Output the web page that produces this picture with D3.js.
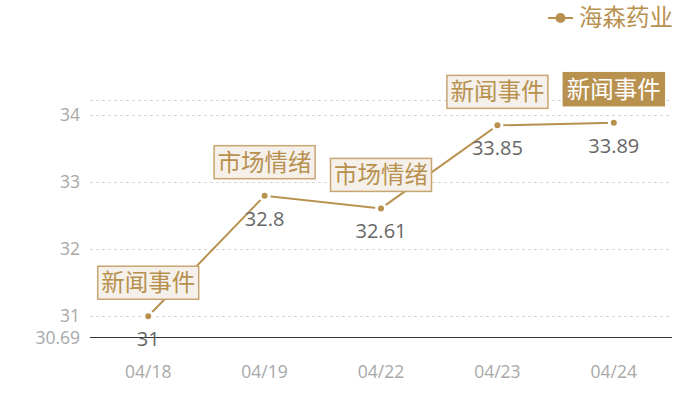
<!DOCTYPE html>
<html>
<head>
<meta charset="utf-8">
<script src="https://cdn.jsdelivr.net/npm/d3@7"></script>
<style>
  body { margin: 0; background: #fff; }
  svg { font-family: "Noto Sans CJK SC", "Noto Sans", sans-serif; }
  .num { font-family: "Open Sans", "Noto Sans", sans-serif; }
</style>
</head>
<body>
<svg></svg>
<script>
var dates = ['04/18', '04/19', '04/22', '04/23', '04/24'];
var prices = [31, 32.8, 32.61, 33.85, 33.89];
var events = ['新闻事件', '市场情绪', '市场情绪', '新闻事件', '新闻事件'];
var highlight = [false, false, false, false, true];
var yTicks = [31, 32, 33, 34];
var seriesName = '海森药业';

var gold = '#b8914f';

document.addEventListener('DOMContentLoaded', function () {
    drawChart();
});

function drawChart() {
    var svgWidth = 700, svgHeight = 400;
    var margin = { top: 100, right: 28, bottom: 63, left: 90 };
    var width = svgWidth - margin.left - margin.right;
    var height = svgHeight - margin.top - margin.bottom;

    var svg = d3.select('svg')
        .attr('width', svgWidth)
        .attr('height', svgHeight);

    var g = svg.append('g')
        .attr('transform', 'translate(' + margin.left + ',' + margin.top + ')');

    var yMin = +(d3.min(prices) * 0.99).toFixed(2);
    var yMax = d3.max(prices) * 1.01;

    var x = d3.scalePoint()
        .domain(dates)
        .range([0, width])
        .padding(0.5);

    var y = d3.scaleLinear()
        .domain([yMin, yMax])
        .range([height, 0]);

    // grid lines (incl. top edge)
    g.selectAll('.grid')
        .data(yTicks.concat([yMax]))
        .enter().append('line')
        .attr('x1', 0).attr('x2', width)
        .attr('y1', function (d) { return Math.round(y(d)) + 0.5; })
        .attr('y2', function (d) { return Math.round(y(d)) + 0.5; })
        .attr('stroke', '#d6d6d6')
        .attr('stroke-dasharray', '3,3');

    // y labels
    g.selectAll('.ylab')
        .data(yTicks.concat([yMin]))
        .enter().append('text')
        .attr('class', 'num')
        .attr('x', -10)
        .attr('y', function (d) { return y(d); })
        .attr('dy', function (d) { return d === yMin ? '0.42em' : '0.34em'; })
        .attr('text-anchor', 'end')
        .attr('fill', '#a8a8a8')
        .attr('font-size', 17.5)
        .text(function (d) { return d; });

    // x axis line
    g.append('line')
        .attr('x1', 0).attr('x2', width)
        .attr('y1', height + 0.5).attr('y2', height + 0.5)
        .attr('stroke', '#333');

    g.selectAll('.xlab')
        .data(dates)
        .enter().append('text')
        .attr('class', 'num')
        .attr('x', function (d) { return x(d); })
        .attr('y', height + 41)
        .attr('text-anchor', 'middle')
        .attr('fill', '#a8a8a8')
        .attr('font-size', 17.5)
        .text(function (d) { return d; });

    var data = dates.map(function (d, i) {
        return { date: d, value: prices[i], event: events[i], hi: highlight[i] };
    });

    var line = d3.line()
        .x(function (d) { return x(d.date); })
        .y(function (d) { return y(d.value); });

    g.append('path')
        .datum(data)
        .attr('fill', 'none')
        .attr('stroke', gold)
        .attr('stroke-width', 2)
        .attr('d', line);

    g.selectAll('.pt')
        .data(data)
        .enter().append('circle')
        .attr('cx', function (d) { return x(d.date); })
        .attr('cy', function (d) { return y(d.value); })
        .attr('r', 4.5)
        .attr('fill', gold)
        .attr('stroke', '#fff')
        .attr('stroke-width', 3);

    g.selectAll('.val')
        .data(data)
        .enter().append('text')
        .attr('class', 'num')
        .attr('x', function (d) { return x(d.date); })
        .attr('y', function (d) { return y(d.value) + 30; })
        .attr('text-anchor', 'middle')
        .attr('fill', '#666')
        .attr('font-size', 20)
        .text(function (d) { return d.value; });

    // event labels
    var boxW = 101, boxH = 33;
    var ann = g.selectAll('.ann')
        .data(data)
        .enter().append('g')
        .attr('transform', function (d) {
            return 'translate(' + x(d.date) + ',' + (y(d.value) - 17 - boxH / 2) + ')';
        });

    ann.append('rect')
        .attr('x', -boxW / 2).attr('y', -boxH / 2)
        .attr('width', boxW).attr('height', boxH)
        .attr('fill', function (d) { return d.hi ? gold : '#f5f0ea'; })
        .attr('stroke', function (d) { return d.hi ? gold : '#c9a571'; })
        .attr('stroke-width', 1.5);

    ann.append('text')
        .attr('text-anchor', 'middle')
        .attr('dy', '0.36em')
        .attr('font-size', 23.5)
        .attr('fill', function (d) { return d.hi ? '#fff' : gold; })
        .text(function (d) { return d.event; });

    // legend
    var lg = svg.append('g').attr('transform', 'translate(548,18)');
    lg.append('line').attr('x1', 0).attr('x2', 25).attr('stroke', gold).attr('stroke-width', 2);
    lg.append('circle').attr('cx', 12.5).attr('r', 5).attr('fill', gold);
    lg.append('text')
        .attr('x', 31).attr('dy', '0.36em')
        .attr('font-size', 23.5)
        .attr('fill', gold)
        .text(seriesName);
}
</script>
</body>
</html>
